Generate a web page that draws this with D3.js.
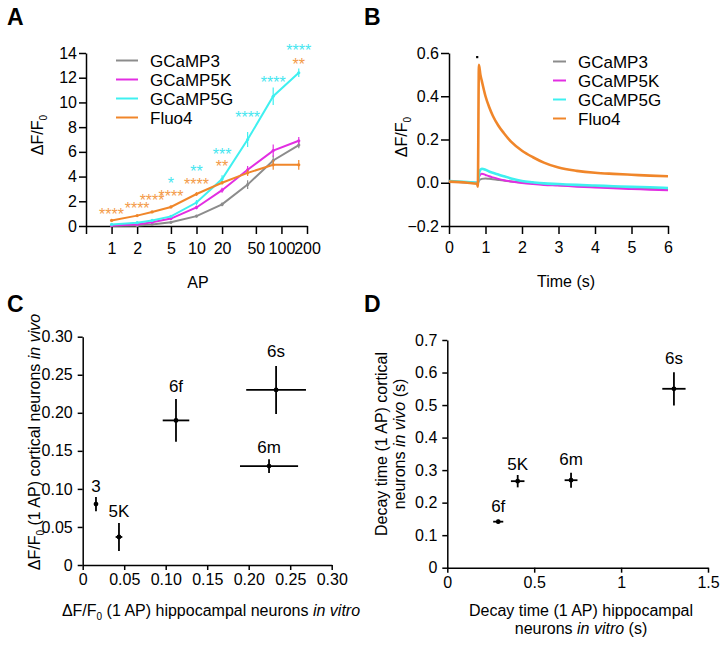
<!DOCTYPE html>
<html>
<head>
<meta charset="utf-8">
<script src="https://cdn.jsdelivr.net/npm/d3@7"></script>
<style>
  body { margin: 0; background: #fff; }
  text { font-family: "Liberation Sans", Arial, sans-serif; }
</style>
</head>
<body>
<svg id="fig" width="728" height="645"></svg>
<script>
// ---- panel A: response amplitude vs number of APs ----
var apCounts = [1, 2, 3, 5, 10, 20, 40, 80, 160];
var gcamp3Amp = [0.03, 0.05, 0.13, 0.3, 0.8, 1.75, 3.35, 5.3, 6.55];
var gcamp3Err = [0.02, 0.03, 0.05, 0.08, 0.1, 0.15, 0.35, 0.4, 0.25];
var gcamp5kAmp = [0.05, 0.13, 0.3, 0.6, 1.5, 2.9, 4.55, 6.1, 6.9];
var gcamp5kErr = [0.02, 0.03, 0.05, 0.1, 0.15, 0.2, 0.3, 0.5, 0.3];
var gcamp5gAmp = [0.13, 0.27, 0.45, 0.78, 1.9, 3.8, 7.0, 10.5, 12.4];
var gcamp5gErr = [0.03, 0.05, 0.08, 0.1, 0.2, 0.3, 0.6, 0.7, 0.35];
var fluo4Amp = [0.45, 0.84, 1.14, 1.54, 2.59, 3.5, 4.3, 4.95, 4.95];
var fluo4Err = [0.05, 0.05, 0.08, 0.1, 0.15, 0.15, 0.25, 0.4, 0.4];
var apTicks = [1, 2, 5, 10, 20, 50, 100, 200];
var ampTicks = [0, 2, 4, 6, 8, 10, 12, 14];
// significance marks: AP, height (dF/F units), text
var starsFluo4 = [[1, 1.21, '****'], [2, 1.7, '****'], [3, 2.32, '****'], [5, 2.7, '****'],
                  [10, 3.64, '****'], [20, 5.07, '**'], [160, 13.38, '**']];
var starsGcamp5g = [[5, 3.72, '*'], [10, 4.72, '**'], [20, 6.07, '***'], [40, 9.07, '****'],
                    [80, 11.9, '****'], [160, 14.47, '****']];

// ---- panel B: mean 1 AP traces ----
var traceTime = [0, 0.5, 0.77, 0.79, 0.82, 0.86, 0.9, 1.0, 1.1, 1.2, 1.35, 1.5, 1.7, 2.0,
                 2.3, 2.6, 3.0, 3.5, 4.0, 4.5, 5.0, 5.5, 6.0];
var traceGcamp3 = [0.005, 0.002, 0, 0, 0.01, 0.015, 0.018, 0.02, 0.018, 0.016, 0.013, 0.01, 0.006, 0.001,
                   -0.003, -0.007, -0.011, -0.015, -0.019, -0.022, -0.025, -0.028, -0.03];
var traceGcamp5k = [0.005, 0.002, 0, -0.003, 0.025, 0.038, 0.042, 0.036, 0.03, 0.025, 0.018, 0.012, 0.006, -0.001,
                    -0.006, -0.01, -0.013, -0.018, -0.022, -0.026, -0.029, -0.032, -0.035];
var traceGcamp5g = [0.008, 0.003, 0, -0.005, 0.04, 0.06, 0.065, 0.06, 0.052, 0.046, 0.038, 0.03, 0.02, 0.008,
                    0.002, -0.003, -0.006, -0.01, -0.013, -0.016, -0.019, -0.021, -0.024];
var traceFluo4 = [0.005, 0, -0.005, -0.018, 0.545, 0.5, 0.47, 0.4, 0.35, 0.31, 0.265, 0.23, 0.19, 0.148,
                  0.118, 0.093, 0.07, 0.055, 0.046, 0.041, 0.037, 0.033, 0.03];
var stimTime = 0.77;
var traceYTicks = [-0.2, 0, 0.2, 0.4, 0.6];
var timeTicks = [0, 1, 2, 3, 4, 5, 6];

// ---- panel C / D: in vitro vs in vivo ----
var sensorNames = ['3', '5K', '6f', '6s', '6m'];
var ampVitro = [0.016, 0.0437, 0.1124, 0.233, 0.2245];
var ampVitroErr = [0.001, 0.004, 0.016, 0.036, 0.035];
var ampVivo = [0.080, 0.0368, 0.190, 0.230, 0.130];
var ampVivoErr = [0.0095, 0.0185, 0.028, 0.0315, 0.009];
var ampTicksC = [0, 0.05, 0.10, 0.15, 0.20, 0.25, 0.30];

var decayNames = ['6f', '5K', '6m', '6s'];
var decayVitro = [0.293, 0.405, 0.712, 1.304];
var decayVitroErr = [0.029, 0.039, 0.037, 0.067];
var decayVivo = [0.1415, 0.266, 0.269, 0.55];
var decayVivoErr = [0.006, 0.019, 0.023, 0.051];
var decayXTicks = [0, 0.5, 1, 1.5];
var decayYTicks = [0, 0.1, 0.2, 0.3, 0.4, 0.5, 0.6, 0.7];

var seriesNames = ['GCaMP3', 'GCaMP5K', 'GCaMP5G', 'Fluo4'];
var seriesColors = ['#8c8c8c', '#e22ee2', '#3ff0f0', '#f0862a'];

var FONT = '"Liberation Sans", Arial, sans-serif';
var FS = 16; // tick and axis title size
var svg = d3.select('#fig');

function styleAxis(g) {
  g.attr('font-family', FONT).attr('font-size', FS);
  g.select('.domain').attr('stroke-width', 1.5);
  g.selectAll('.tick line').attr('stroke-width', 1.5);
  g.selectAll('.tick text').attr('fill', '#000');
  return g;
}

function panelLabel(txt, x, y) {
  svg.append('text').attr('x', x).attr('y', y)
    .attr('font-size', 23).attr('font-weight', 'bold').text(txt);
}

// "ΔF/F0" with subscript, followed by optional rest
function dff(textSel, rest) {
  textSel.append('tspan').text('\u0394F/F');
  textSel.append('tspan').attr('font-size', 10).attr('dy', 4).text('0');
  if (rest) {
    rest.forEach(function(r, i) {
      var t = textSel.append('tspan').text(r[0]);
      if (i === 0) t.attr('dy', -4);
      if (r[1]) t.attr('font-style', 'italic');
    });
  }
}

function legend(x0, x1, xt, y0, dy) {
  seriesNames.forEach(function(name, i) {
    var y = y0 + i * dy;
    svg.append('line').attr('x1', x0).attr('x2', x1).attr('y1', y).attr('y2', y)
      .attr('stroke', seriesColors[i]).attr('stroke-width', 2);
    svg.append('text').attr('x', xt).attr('y', y).attr('dy', '0.36em')
      .attr('font-size', 17).text(name);
  });
}

// ================= A =================
(function() {
  var x = d3.scaleLog().domain([0.5, 200]).range([86, 307]);
  var y = d3.scaleLinear().domain([0, 14]).range([226, 53]);
  var g = svg.append('g');

  styleAxis(g.append('g').attr('transform', 'translate(0,226)')
    .call(d3.axisBottom(x).tickValues([0.5].concat(apTicks)).tickFormat(function(d) { return d < 1 ? '' : d; })
      .tickSizeInner(8).tickSizeOuter(0).tickPadding(9)));
  styleAxis(g.append('g').attr('transform', 'translate(86,0)')
    .call(d3.axisLeft(y).tickValues(ampTicks).tickFormat(d3.format('d')).tickSizeInner(7).tickSizeOuter(0).tickPadding(2)));

  var amps = [gcamp3Amp, gcamp5kAmp, gcamp5gAmp, fluo4Amp];
  var errs = [gcamp3Err, gcamp5kErr, gcamp5gErr, fluo4Err];
  var line = d3.line().x(function(d) { return x(d[0]); }).y(function(d) { return y(d[1]); });

  amps.forEach(function(a, si) {
    var pts = apCounts.map(function(n, i) { return [n, a[i], errs[si][i]]; });
    var sg = g.append('g');
    sg.selectAll('line.err').data(pts).enter().append('line')
      .attr('x1', function(d) { return x(d[0]); }).attr('x2', function(d) { return x(d[0]); })
      .attr('y1', function(d) { return y(d[1] - d[2]); }).attr('y2', function(d) { return y(d[1] + d[2]); })
      .attr('stroke', seriesColors[si]).attr('stroke-width', 1.2);
    sg.append('path').datum(pts).attr('d', line).attr('fill', 'none')
      .attr('stroke', seriesColors[si]).attr('stroke-width', 2);
    sg.selectAll('circle').data(pts).enter().append('circle')
      .attr('cx', function(d) { return x(d[0]); }).attr('cy', function(d) { return y(d[1]); })
      .attr('r', 1.6).attr('fill', seriesColors[si]);
  });

  function stars(data, color) {
    g.selectAll(null).data(data).enter().append('text')
      .attr('x', function(d) { return x(d[0]); })
      .attr('y', function(d) { return y(d[1]) + 9; })
      .attr('text-anchor', 'middle').attr('font-size', 16).attr('fill', color)
      .text(function(d) { return d[2]; });
  }
  stars(starsFluo4, '#f39a48');
  stars(starsGcamp5g, '#45e6f0');

  legend(116, 138, 150, 60.5, 19);

  svg.append('text').attr('x', 198).attr('y', 288).attr('text-anchor', 'middle')
    .attr('font-size', FS).text('AP');
  var yl = svg.append('text').attr('transform', 'translate(43,135) rotate(-90)')
    .attr('text-anchor', 'middle').attr('font-size', FS);
  dff(yl);
  panelLabel('A', 7, 25);
})();

// ================= B =================
(function() {
  var x = d3.scaleLinear().domain([0, 6]).range([449, 668]);
  var y = d3.scaleLinear().domain([-0.2, 0.6]).range([226, 53]);
  var g = svg.append('g');

  styleAxis(g.append('g').attr('transform', 'translate(0,226)')
    .call(d3.axisBottom(x).tickValues(timeTicks).tickFormat(d3.format('d')).tickSizeInner(8).tickSizeOuter(0).tickPadding(8)));
  styleAxis(g.append('g').attr('transform', 'translate(449,0)')
    .call(d3.axisLeft(y).tickValues(traceYTicks).tickFormat(d3.format('.1f')).tickSizeInner(8).tickSizeOuter(0).tickPadding(2)));

  var traces = [traceGcamp3, traceGcamp5k, traceGcamp5g, traceFluo4];
  var widths = [2, 2, 2.6, 2.6];
  var line = d3.line().curve(d3.curveMonotoneX)
    .x(function(d) { return x(d[0]); }).y(function(d) { return y(d[1]); });
  traces.forEach(function(tr, si) {
    var pts = traceTime.map(function(t, i) { return [t, tr[i]]; });
    g.append('path').datum(pts).attr('d', line).attr('fill', 'none')
      .attr('stroke', seriesColors[si]).attr('stroke-width', widths[si])
      .attr('stroke-linejoin', 'round');
  });

  g.append('rect').attr('x', x(stimTime) - 1).attr('y', 56).attr('width', 2.2).attr('height', 2.2).attr('fill', '#000');

  legend(553, 566, 578, 61.5, 19);

  svg.append('text').attr('x', 566).attr('y', 287).attr('text-anchor', 'middle')
    .attr('font-size', FS).text('Time (s)');
  var yl = svg.append('text').attr('transform', 'translate(407,137) rotate(-90)')
    .attr('text-anchor', 'middle').attr('font-size', FS);
  dff(yl);
  panelLabel('B', 364, 25);
})();

function crossPlot(xs, ys, xe, ye, names, x, y, g, labelOff) {
  var pts = names.map(function(n, i) { return {n: n, x: xs[i], y: ys[i], xe: xe[i], ye: ye[i], off: labelOff[i]}; });
  var pg = g.selectAll('g.pt').data(pts).enter().append('g');
  pg.append('line')
    .attr('x1', function(d) { return x(d.x - d.xe); }).attr('x2', function(d) { return x(d.x + d.xe); })
    .attr('y1', function(d) { return y(d.y); }).attr('y2', function(d) { return y(d.y); })
    .attr('stroke', '#000').attr('stroke-width', 1.8);
  pg.append('line')
    .attr('x1', function(d) { return x(d.x); }).attr('x2', function(d) { return x(d.x); })
    .attr('y1', function(d) { return y(d.y - d.ye); }).attr('y2', function(d) { return y(d.y + d.ye); })
    .attr('stroke', '#000').attr('stroke-width', 1.8);
  pg.append('circle').attr('cx', function(d) { return x(d.x); }).attr('cy', function(d) { return y(d.y); })
    .attr('r', 2.4).attr('fill', '#000');
  pg.append('text').attr('x', function(d) { return x(d.x); })
    .attr('y', function(d) { return y(d.y) - d.off; })
    .attr('text-anchor', 'middle').attr('font-size', 17).text(function(d) { return d.n; });
}

// ================= C =================
(function() {
  var x = d3.scaleLinear().domain([0, 0.3]).range([82.7, 331.7]);
  var y = d3.scaleLinear().domain([0, 0.3]).range([565, 336.7]);
  var g = svg.append('g');
  var fmt = function(d) { return d === 0 ? '0' : d3.format('.2f')(d); };

  styleAxis(g.append('g').attr('transform', 'translate(0,565)')
    .call(d3.axisBottom(x).tickValues(ampTicksC).tickFormat(fmt).tickSizeInner(5).tickSizeOuter(0).tickPadding(4)));
  styleAxis(g.append('g').attr('transform', 'translate(82.7,0)')
    .call(d3.axisLeft(y).tickValues(ampTicksC).tickFormat(fmt).tickSizeInner(5).tickSizeOuter(0).tickPadding(5)));

  crossPlot(ampVitro, ampVivo, ampVitroErr, ampVivoErr, sensorNames, x, y, g, [12, 20, 28, 33, 13]);

  var xl = svg.append('text').attr('x', 211).attr('y', 616).attr('text-anchor', 'middle').attr('font-size', FS);
  dff(xl, [[' (1 AP) hippocampal neurons '], ['in vitro', true]]);
  var yl = svg.append('text').attr('transform', 'translate(39.5,442) rotate(-90)')
    .attr('text-anchor', 'middle').attr('font-size', FS);
  dff(yl, [[' (1 AP) cortical neurons '], ['in vivo', true]]);
  panelLabel('C', 7, 312);
})();

// ================= D =================
(function() {
  var x = d3.scaleLinear().domain([0, 1.5]).range([447.3, 708]);
  var y = d3.scaleLinear().domain([0, 0.7]).range([567.7, 340]);
  var g = svg.append('g');

  styleAxis(g.append('g').attr('transform', 'translate(0,567.7)')
    .call(d3.axisBottom(x).tickValues(decayXTicks).tickFormat(d3.format('~g')).tickSizeInner(5).tickSizeOuter(0).tickPadding(4)));
  styleAxis(g.append('g').attr('transform', 'translate(447.3,0)')
    .call(d3.axisLeft(y).tickValues(decayYTicks).tickFormat(function(d) { return d === 0 ? '0' : d3.format('.1f')(d); })
      .tickSizeInner(5).tickSizeOuter(0).tickPadding(5)));

  crossPlot(decayVitro, decayVivo, decayVitroErr, decayVivoErr, decayNames, x, y, g, [10, 11, 15, 25]);

  var l1 = svg.append('text').attr('x', 581).attr('y', 616).attr('text-anchor', 'middle').attr('font-size', FS);
  l1.text('Decay time (1 AP) hippocampal');
  var l2 = svg.append('text').attr('x', 581).attr('y', 634).attr('text-anchor', 'middle').attr('font-size', FS);
  l2.append('tspan').text('neurons ');
  l2.append('tspan').attr('font-style', 'italic').text('in vitro');
  l2.append('tspan').text(' (s)');

  svg.append('text').attr('transform', 'translate(387,444) rotate(-90)')
    .attr('text-anchor', 'middle').attr('font-size', FS).text('Decay time (1 AP) cortical');
  var y2 = svg.append('text').attr('transform', 'translate(405,444) rotate(-90)')
    .attr('text-anchor', 'middle').attr('font-size', FS);
  y2.append('tspan').text('neurons ');
  y2.append('tspan').attr('font-style', 'italic').text('in vivo');
  y2.append('tspan').text(' (s)');
  panelLabel('D', 364, 312);
})();
</script>
</body>
</html>
